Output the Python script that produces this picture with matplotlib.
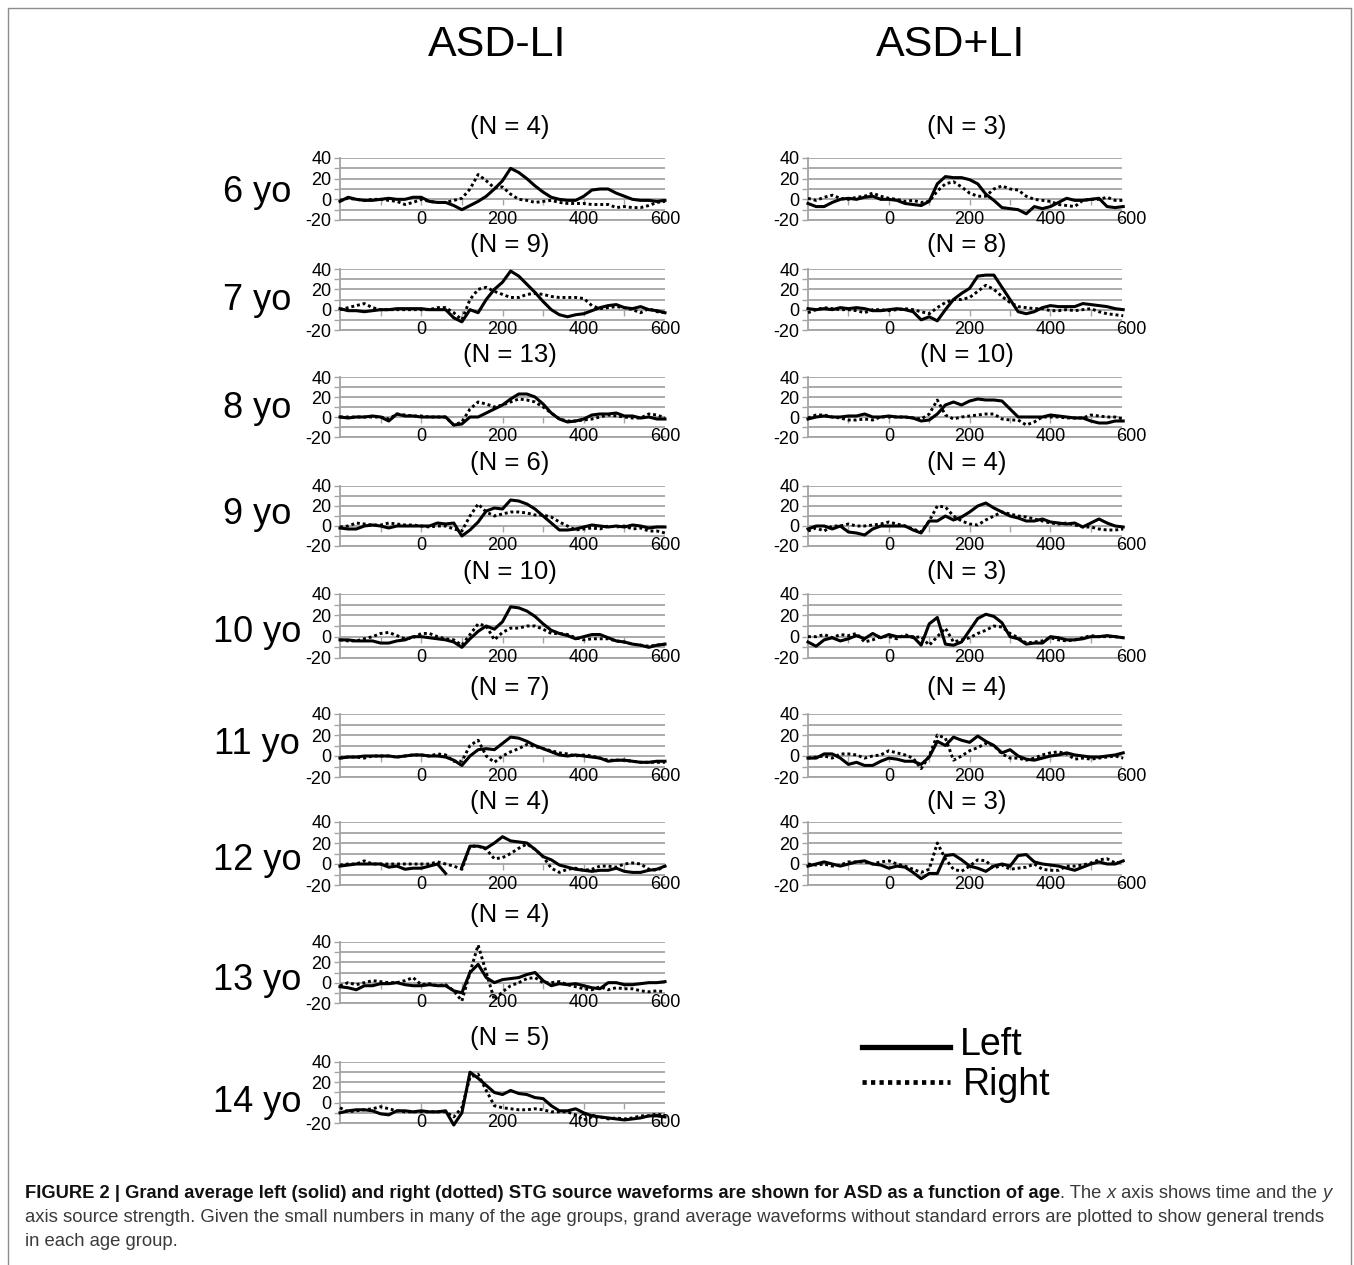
import numpy as np
import matplotlib
matplotlib.use("Agg")
import matplotlib.pyplot as plt
from matplotlib.lines import Line2D
from matplotlib.patches import Rectangle

plt.rcParams['font.family'] = ['Liberation Sans', 'DejaVu Sans']

# ------------------------------------------------------------------ data
time_li_minus = np.arange(-200, 601, 20)   # ms, ASD-LI panels
time_li_plus = np.arange(-200, 581, 20)    # ms, ASD+LI panels

age_labels = ['6 yo', '7 yo', '8 yo', '9 yo', '10 yo', '11 yo', '12 yo', '13 yo', '14 yo']
n_li_minus = [4, 9, 13, 6, 10, 7, 4, 4, 5]
n_li_plus = [3, 8, 10, 4, 3, 4, 3]
x_tick_values = [0, 200, 400, 600]
y_tick_values = [-20, 0, 20, 40]
group_titles = ['ASD-LI', 'ASD+LI']
legend_labels = ['Left', 'Right']

# ASD-LI (left = solid, right = dotted)
minus6_left = [-2, 2, 0, -1, -1, 0, 1, 0, 0, 2, 2, -2, -3, -3, -6, -10, -6, -2, 3, 10,
               18, 30, 26, 20, 13, 7, 2, 0, -1, -1, 3, 9, 10, 10, 6, 3, 0, -1, -1, -2, -1]
minus6_right = [-1, 1, 0, -1, 0, 0, -1, -2, -5, -3, 0, -2, -3, -3, -1, 1, 10, 24, 18, 11,
                12, 5, 0, -1, -3, -2, -1, -3, -4, -4, -4, -5, -5, -5, -8, -7, -8, -8, -6, -3, -2]
minus7_left = [1, -1, -1, -2, -1, 0, 0, 1, 1, 1, 1, 0, 0, 0, -8, -12, 0, -3, 10, 20,
               27, 38, 33, 25, 17, 8, 0, -5, -7, -5, -4, -1, 2, 4, 5, 2, 1, 3, 0, -1, -3]
minus7_right = [0, 2, 4, 6, 2, 0, 0, 0, 0, 0, 0, 0, 2, 2, -3, -10, 10, 20, 22, 18,
                15, 12, 12, 15, 16, 15, 13, 12, 12, 12, 11, 4, 1, 2, 3, 2, 0, -3, 1, -2, -3]
minus8_left = [0, -1, 0, 0, 1, 0, -4, 3, 1, 1, 0, 0, 0, 0, -8, -7, 0, 0, 4, 8,
               12, 18, 23, 23, 20, 13, 4, -2, -5, -4, -2, 2, 3, 3, 4, 1, 1, -1, 0, -2, -2]
minus8_right = [0, 0, 0, 0, 0, 0, -2, 3, 2, 1, 1, 0, 0, 0, -8, -5, 8, 15, 13, 10,
                12, 15, 18, 17, 15, 10, 4, -2, -4, -4, -3, -2, 0, 2, 1, 0, -1, -1, 3, 2, -1]
minus9_left = [-2, -3, -3, 0, 1, 0, -2, 0, 0, 0, 0, 0, 3, 2, 3, -10, -4, 4, 15, 18,
               17, 26, 25, 22, 17, 10, 3, -4, -4, -3, -1, 1, 0, -1, 0, -1, 1, 0, -2, -1, -1]
minus9_right = [-1, 0, 3, 2, 1, 1, 3, 2, 1, 1, 0, -1, 0, 0, -3, -5, 10, 22, 14, 10,
                12, 14, 14, 13, 11, 11, 9, 4, 0, -4, -3, -2, -3, 0, -1, 0, -3, -2, -5, -5, -7]
minus10_left = [-3, -3, -4, -4, -4, -6, -6, -4, -3, 0, 0, -1, -2, -3, -5, -10, -2, 5, 10, 7,
                14, 28, 27, 24, 19, 12, 6, 3, 1, -2, 0, 2, 2, -1, -4, -5, -7, -8, -10, -8, -7]
minus10_right = [-3, -4, -4, -2, 0, 3, 4, 1, -2, -1, 3, 3, 0, -2, -3, -8, 2, 12, 10, -3,
                 4, 8, 8, 10, 10, 7, 3, 3, 2, -1, -3, -2, -2, -2, -4, -5, -7, -8, -9, -8, -7]
minus11_left = [-2, -1, -1, 0, 0, 0, 0, -1, 0, 1, 1, 0, 0, -1, -4, -9, 0, 6, 7, 6,
                12, 18, 17, 14, 10, 7, 4, 1, 0, 1, 0, -1, -2, -5, -4, -4, -5, -6, -6, -5, -5]
minus11_right = [-2, -1, -1, -2, 0, 0, 0, -1, 0, 1, 1, 0, 2, 1, -5, -5, 10, 15, 0, -6,
                 0, 4, 7, 11, 9, 7, 5, 3, 2, 0, 1, 0, -2, -4, -4, -4, -5, -6, -6, -6, -6]
minus12_left = [-2, -1, 0, 0, 0, 0, -3, -2, -5, -4, -4, -2, 0, -9, np.nan, -3, 17, 17, 15, 20,
                26, 22, 21, 20, 14, 7, 4, -1, -3, -5, -6, -7, -6, -6, -4, -7, -8, -8, -6, -5, -2]
minus12_right = [-1, 0, 0, 3, 0, 0, 0, 0, 0, 0, 0, 0, 2, 0, -2, -5, 17, 17, 14, 5,
                 6, 10, 15, 19, 14, 7, -4, -8, -5, -4, -6, -5, -2, -2, -3, 0, 1, 0, -5, -6, -2]
minus13_left = [-4, -5, -7, -3, -3, -1, -1, 0, -2, -3, -3, -2, -3, -3, -8, -10, 10, 18, 5, 0,
                3, 4, 5, 8, 10, 2, -3, -1, -2, -1, -3, -5, -6, 0, 0, -2, -2, -1, 0, 0, 1]
minus13_right = [-3, 0, -2, 0, 2, 1, 0, 0, 2, 5, -2, -1, -3, -2, -8, -18, 10, 37, 10, -17,
                 -9, -3, 0, 4, 5, 0, 0, 1, -2, -4, -6, -7, -4, -7, -5, -6, -6, -8, -9, -8, -9]
minus14_left = [-10, -8, -7, -7, -8, -11, -12, -8, -8, -9, -8, -9, -9, -8, -22, -10, 30, 24, 17, 10,
                8, 12, 9, 8, 5, 4, -3, -8, -8, -6, -10, -13, -14, -15, -16, -17, -16, -15, -13, -13, -14]
minus14_right = [-5, -9, -8, -7, -6, -4, -6, -8, -9, -9, -9, -9, -9, -9, -14, -5, 25, 28, 12, -3,
                 -5, -6, -7, -7, -6, -7, -9, -9, -9, -12, -17, -14, -14, -16, -15, -16, -15, -13, -13, -11, -13]

# ASD+LI (left = solid, right = dotted)
plus6_left = [-4, -7, -7, -3, 0, 1, 0, 2, 3, 0, 0, -1, -4, -5, -6, -2, 15, 22, 21, 21,
              19, 15, 5, -1, -8, -9, -10, -14, -7, -9, -7, -3, 1, -1, -1, 0, 1, -7, -8, -7]
plus6_right = [1, -1, 2, 4, 1, 0, 2, 3, 6, 3, 1, 0, -2, -1, -3, -2, 8, 15, 17, 12,
               6, 3, 3, 10, 13, 10, 9, 3, 0, -1, -2, -5, -6, -7, -1, 0, 0, 2, -1, -1]
plus7_left = [1, 0, 1, 0, 2, 1, 2, 1, -1, -1, 0, 1, 0, -2, -10, -7, -11, 0, 10, 16,
              21, 33, 34, 34, 22, 10, -2, -4, -2, 2, 4, 3, 3, 3, 6, 5, 4, 3, 1, 0]
plus7_right = [-3, 0, 2, 1, 0, 0, -1, -3, 0, 0, -1, 0, 1, 0, -2, -4, 2, 7, 10, 10,
               12, 18, 24, 20, 13, 7, 3, 2, 1, 1, -1, -1, 0, -1, 0, 1, -2, -4, -5, -6]
plus8_left = [-2, 0, 1, 0, 0, 1, 1, 3, 0, 0, 1, 0, 0, -1, -4, -3, 3, 12, 15, 12,
              16, 18, 17, 17, 16, 8, 0, 0, 0, 0, 2, 1, 0, -1, -1, -4, -6, -6, -4, -4]
plus8_right = [-1, 2, 2, 0, -1, -3, -3, -2, -3, 0, 0, 0, 0, -1, -2, 3, 17, 2, -2, 0,
               1, 2, 3, 3, -2, -3, -3, -8, -5, 0, 0, 0, -1, -1, -1, 2, 1, 0, 0, -2]
plus9_left = [-3, 0, 0, -3, 0, -6, -7, -9, -3, 0, 0, 0, 0, -4, -7, 5, 5, 10, 6, 9,
              14, 20, 23, 18, 14, 10, 8, 5, 5, 7, 4, 3, 2, 3, -1, 3, 7, 3, 0, -1]
plus9_right = [-5, -2, -5, 0, 0, 2, 0, 0, 1, 2, 4, 2, 0, -3, -6, 5, 20, 19, 10, 5,
               2, 1, 6, 10, 14, 12, 10, 9, 7, 5, 3, 2, 3, 1, -1, -1, -3, -4, -4, -3]
plus10_left = [-5, -9, -3, -1, -4, -2, 1, -2, 3, -1, 2, 0, 0, 0, -8, 12, 18, -7, -8, -5,
               6, 17, 21, 19, 13, 0, -2, -7, -6, -6, 0, -1, -3, -3, -2, 0, 0, 1, 0, -1]
plus10_right = [0, 0, 2, -1, 2, 1, 3, -5, -3, 0, 0, -2, 2, -1, 0, -8, 0, 8, -5, -3,
                -1, 3, 6, 10, 9, 3, -1, -6, -5, -4, -1, -3, -4, -3, -1, 1, 0, 0, 0, -1]
plus11_left = [-2, -2, 2, 2, -2, -8, -6, -9, -9, -5, -2, -3, -5, -5, -8, -1, 14, 10, 18, 15,
               13, 19, 14, 10, 3, 6, 0, -3, -4, -2, 0, 1, 3, 1, 0, -1, -1, 0, 1, 3]
plus11_right = [-2, -1, 0, -2, 2, 2, 1, -2, 0, 1, 5, 3, 1, -2, -12, 0, 20, 17, -4, 0,
                5, 8, 12, 10, 2, -2, -2, -4, -2, 1, 3, 4, 2, -3, -2, -3, -2, -1, 0, -2]
plus12_left = [-2, 0, 2, 0, -2, 0, 2, 3, 0, -1, -4, -2, -3, -8, -14, -9, -9, 8, 9, 4,
               -2, -4, -7, -2, 0, -2, 8, 9, 2, 0, -1, -2, -4, -6, -3, 0, 2, 0, 0, 3]
plus12_right = [0, -1, 0, -2, -1, 2, 2, 2, 0, 2, 3, 0, -2, -5, -8, -5, 20, 5, -5, -7,
                -2, 4, 3, -4, -1, -5, -4, -3, 0, -5, -6, -6, -2, -2, -1, 1, 4, 5, 1, 2]

li_minus_left = [minus6_left, minus7_left, minus8_left, minus9_left, minus10_left,
                 minus11_left, minus12_left, minus13_left, minus14_left]
li_minus_right = [minus6_right, minus7_right, minus8_right, minus9_right, minus10_right,
                  minus11_right, minus12_right, minus13_right, minus14_right]
li_plus_left = [plus6_left, plus7_left, plus8_left, plus9_left, plus10_left,
                plus11_left, plus12_left]
li_plus_right = [plus6_right, plus7_right, plus8_right, plus9_right, plus10_right,
                 plus11_right, plus12_right]

# ------------------------------------------------------------------ layout
W, H = 1354, 1265
fig = plt.figure(figsize=(W / 100, H / 100), dpi=100)
fig.patch.set_facecolor('white')

GRID = '#a4a4a4'
TICK_FS = 13

row_top = [158, 269, 377, 486, 594, 714, 822, 942, 1062]
row_h = [62, 61, 60, 60, 64, 63, 63, 61, 61]
title_y = [127, 245, 355, 463, 572, 688, 802, 915, 1038]
age_y = [192, 300, 408, 515, 632, 745, 860, 980, 1102]


def add_axes_px(x0, y_top, w, h):
    return fig.add_axes([x0 / W, 1 - (y_top + h) / H, w / W, h / H])


def style_axes(ax, xmax):
    ax.set_xlim(-200, xmax)
    ax.set_ylim(-20, 40)
    ax.set_yticks(y_tick_values)
    ax.set_yticklabels([str(v) for v in y_tick_values], fontsize=TICK_FS)
    ax.set_yticks([-10, 10, 30], minor=True)
    ax.yaxis.grid(True, which='both', color=GRID, lw=1.3)
    ax.set_axisbelow(True)
    ax.tick_params(axis='y', which='both', length=4, width=1, color=GRID, pad=2)
    ax.set_xticks([])
    for s in ['top', 'right']:
        ax.spines[s].set_visible(False)
    for s in ['left', 'bottom']:
        ax.spines[s].set_color(GRID)
        ax.spines[s].set_linewidth(1.3)
    for t in x_tick_values:
        ax.text(t, -19.5, str(t), ha='center', va='center', fontsize=TICK_FS, clip_on=False)
    sec = ax.secondary_xaxis(1 / 3)
    sec.set_xticks(np.arange(-100, 600, 100))
    sec.tick_params(axis='x', which='both', bottom=True, top=False, labelbottom=False,
                    labeltop=False, direction='out', length=4, width=1, color=GRID)
    for s in sec.spines.values():
        s.set_visible(False)


def draw_panel(ax, t, left, right):
    ax.plot(t, right, color='black', lw=2.1, linestyle=(0, (1, 1.0)),
            dash_capstyle='butt', clip_on=False, zorder=3)
    ax.plot(t, left, color='black', lw=2.2, solid_joinstyle='round', clip_on=False, zorder=4)


for i, age in enumerate(age_labels):
    ax = add_axes_px(340, row_top[i], 325, row_h[i])
    style_axes(ax, 600)
    draw_panel(ax, time_li_minus, li_minus_left[i], li_minus_right[i])
    fig.text(510 / W, 1 - title_y[i] / H, f'(N = {n_li_minus[i]})', fontsize=18.5,
             ha='center', va='center')
    fig.text(257 / W, 1 - age_y[i] / H, age, fontsize=26, ha='center', va='center')

for i in range(len(n_li_plus)):
    ax = add_axes_px(808, row_top[i], 314, row_h[i])
    style_axes(ax, 577)
    draw_panel(ax, time_li_plus, li_plus_left[i], li_plus_right[i])
    fig.text(967 / W, 1 - title_y[i] / H, f'(N = {n_li_plus[i]})', fontsize=18.5,
             ha='center', va='center')

fig.text(497 / W, 1 - 45 / H, group_titles[0], fontsize=31, ha='center', va='center')
fig.text(951 / W, 1 - 45 / H, group_titles[1], fontsize=31, ha='center', va='center')

# legend
fig.add_artist(Line2D([862 / W, 950 / W], [1 - 1047 / H] * 2, color='black', lw=3.8,
                      transform=fig.transFigure))
fig.add_artist(Line2D([862 / W, 950 / W], [1 - 1082 / H] * 2, color='black', lw=3.4,
                      linestyle=(0, (0.9, 0.9)), dash_capstyle='butt', transform=fig.transFigure))
fig.text(960 / W, 1 - 1055 / H, legend_labels[0], fontsize=27, ha='left', va='baseline')
fig.text(963 / W, 1 - 1095 / H, legend_labels[1], fontsize=27, ha='left', va='baseline')

# frame
fig.add_artist(Rectangle((8 / W, -0.02), (1351 - 8) / W, 1.02 - 8 / H, fill=False,
                         edgecolor='#8c8c8c', lw=1.0, transform=fig.transFigure))

# caption
renderer = fig.canvas.get_renderer()


def text_w(s, **kw):
    t1 = fig.text(0, 0, '|' + s + '|', **kw)
    w1 = t1.get_window_extent(renderer).width
    t1.remove()
    t2 = fig.text(0, 0, '||', **kw)
    w2 = t2.get_window_extent(renderer).width
    t2.remove()
    return w1 - w2


BOLD = dict(fontweight='bold', color='#111111')
REG = dict(color='#3a3a3a')
ITAL = dict(style='italic', color='#3a3a3a')

cap_line1 = [("FIGURE 2 | Grand average left (solid) and right (dotted) STG source waveforms "
              "are shown for ASD as a function of age", BOLD),
             (". The ", REG), ("x", ITAL), (" axis shows time and the ", REG), ("y", ITAL)]
cap_line2 = [("axis source strength. Given the small numbers in many of the age groups, grand "
              "average waveforms without standard errors are plotted to show general trends", REG)]
cap_line3 = [("in each age group.", REG)]

X0, TARGET = 25, 1310
fs_base = 10.0
w2 = sum(text_w(s, fontsize=fs_base, **kw) for s, kw in cap_line2)
fs2 = fs_base * TARGET / w2
w1 = sum(text_w(s, fontsize=fs_base, **kw) for s, kw in cap_line1)
fs1 = fs_base * TARGET / w1


def place_line(pieces, fs, baseline):
    x = X0
    for s, kw in pieces:
        fig.text(x / W, 1 - baseline / H, s, fontsize=fs, ha='left', va='baseline', **kw)
        x += text_w(s, fontsize=fs, **kw)


place_line(cap_line1, fs1, 1198)
place_line(cap_line2, fs2, 1222)
place_line(cap_line3, fs2, 1246)

fig.savefig('out.png', dpi=100, facecolor='white')
